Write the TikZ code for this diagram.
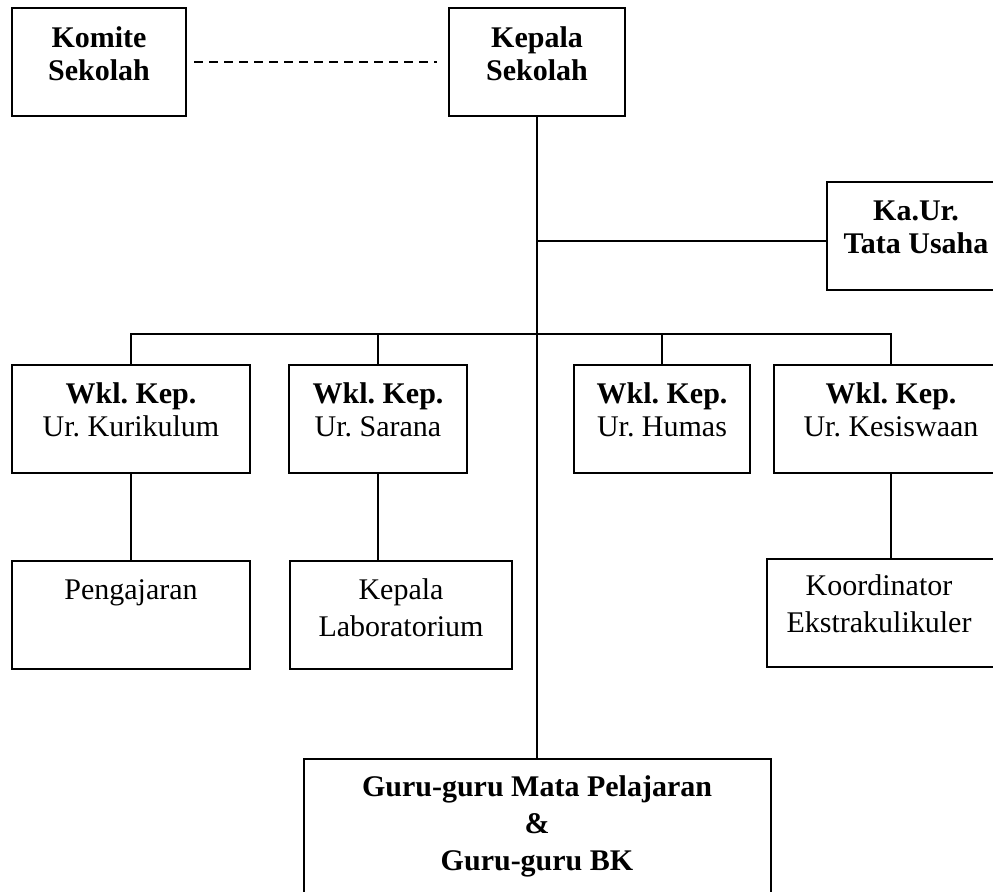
\documentclass[tikz,border=0pt]{standalone}
\usepackage{fontspec}
\setmainfont{Liberation Serif}
\usetikzlibrary{positioning}
\frenchspacing

\begin{document}
\begin{tikzpicture}[x=0.4pt, y=-0.4pt,
	font=\fontsize{12}{13.2}\selectfont,
	box/.style={draw, line width=0.8pt, inner sep=0pt, minimum height=43.2pt},
	txt/.style={anchor=north, yshift=-7.6pt, align=center, inner sep=0pt},
	txtw/.style={txt, font=\fontsize{12}{14.8}\selectfont},
	ln/.style={line width=0.55pt},
	dsh/.style={line width=0.55pt, dash pattern=on 3.6pt off 2.4pt}]

	\useasboundingbox (0,0) rectangle (993,892);
	\clip (0,0) rectangle (993,892);

	\node[box, minimum width=69.6pt, label={[txt]north:{\textbf{Komite}\\\textbf{Sekolah}}}] (kom) at (99,62) {};
	\node[box, minimum width=70.4pt, label={[txt]north:{\textbf{Kepala}\\\textbf{Sekolah}}}] (kep) at (537,62) {};
	\node[box, minimum width=71.2pt, label={[txt]north:{\textbf{Ka.Ur.}\\\textbf{Tata Usaha}}}] (kaur) at (916,236) {};

	\node[box, minimum width=95.2pt, label={[txt, yshift=0.4pt]north:{\textbf{Wkl. Kep.}\\Ur. Kurikulum}}] (kur) at (131,419) {};
	\node[box, minimum width=71.2pt, label={[txt, yshift=0.4pt]north:{\textbf{Wkl. Kep.}\\Ur. Sarana}}] (sar) at (378,419) {};
	\node[box, minimum width=70.4pt, label={[txt, yshift=0.4pt]north:{\textbf{Wkl. Kep.}\\Ur. Humas}}] (hum) at (662,419) {};
	\node[box, minimum width=93.6pt, label={[txt, yshift=0.4pt]north:{\textbf{Wkl. Kep.}\\Ur. Kesiswaan}}] (kes) at (891,419) {};

	\node[box, minimum width=95.2pt, label={[txtw]north:Pengajaran}] (pen) at (131,615) {};
	\node[box, minimum width=88.8pt, label={[txtw, yshift=0.4pt]north:{Kepala\\Laboratorium}}] (lab) at (401,615) {};
	\node[box, minimum width=93.6pt, label={[txtw, yshift=1.2pt, xshift=-2pt]north:{Koordinator\\Ekstrakulikuler}}] (koo) at (884,613) {};

	\node[box, minimum width=186.8pt, minimum height=59.6pt,
		label={[txtw, yshift=0.4pt]north:{\textbf{Guru-guru Mata Pelajaran}\\\textbf{\&}\\\textbf{Guru-guru BK}}}] (gur) at (537,833) {};

	\draw[dsh, shorten <=2.8pt, shorten >=4.4pt] (kom) -- (kep);
	\draw[ln] (kep) -- (gur);

	\coordinate (tu) at (537,241);
	\draw[ln] (tu) -- (tu -| kaur.west);

	\coordinate (bus) at (537,334);
	\draw[ln] (kur.north) |- (bus) -| (kes.north);
	\foreach \w in {sar,hum}
		\draw[ln] (\w.north) -- (\w.north |- bus);

	\draw[ln] (kur) -- (pen);
	\draw[ln] (sar.south) -- (sar.south |- lab.north);
	\draw[ln] (kes.south) -- (kes.south |- koo.north);
\end{tikzpicture}
\end{document}
